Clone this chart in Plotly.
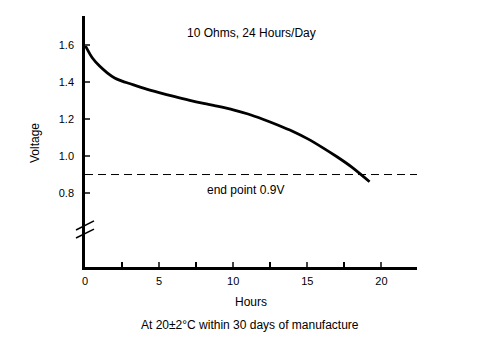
import plotly.graph_objects as go

hours = [0, 0.5, 1.0, 1.5, 2.0, 2.5, 3, 4, 5, 6, 7, 8, 9, 10, 11, 12, 13, 14, 15, 16, 17, 18, 19.2]
voltage = [1.600, 1.530, 1.485, 1.450, 1.422, 1.405, 1.392, 1.366, 1.343, 1.322, 1.302, 1.284, 1.268,
           1.250, 1.227, 1.199, 1.168, 1.134, 1.094, 1.047, 0.996, 0.940, 0.861]
end_point = 0.9
x_ticks = [0, 5, 10, 15, 20]
y_ticks = [0.8, 1.0, 1.2, 1.4, 1.6]
y_tick_text = ["0.8", "1.0", "1.2", "1.4", "1.6"]

X_RANGE = [0, 22.4]
Y_RANGE = [0.4, 1.757]

FONT = "Liberation Sans, Arial, sans-serif"

fig = go.Figure()
fig.add_trace(go.Scatter(x=hours, y=voltage, mode="lines",
                         line=dict(color="black", width=2.8, shape="spline", smoothing=0.8),
                         hoverinfo="skip", showlegend=False))
fig.add_trace(go.Scatter(x=[X_RANGE[0], X_RANGE[1]], y=[end_point, end_point], mode="lines",
                         line=dict(color="black", width=1, dash="8px,5px"),
                         hoverinfo="skip", showlegend=False, cliponaxis=False))


def py(v):
    return (v - Y_RANGE[0]) / (Y_RANGE[1] - Y_RANGE[0])


W = 332.0
H = 251.0
# axis break marks
for v0, v1 in [(0.600, 0.649), (0.557, 0.605)]:
    fig.add_shape(type="line", xref="paper", yref="paper",
                  x0=-9 / W, x1=9 / W, y0=py(v0), y1=py(v1),
                  line=dict(color="black", width=1.5))

txt = dict(showarrow=False, xanchor="center", yanchor="middle",
           font=dict(size=12, color="black", family=FONT))
fig.add_annotation(x=11.2, y=1.665, xref="x", yref="y", text="10 Ohms, 24 Hours/Day", **txt)
fig.add_annotation(x=10.85, y=0.815, xref="x", yref="y", text="end point 0.9V", **txt)
fig.add_annotation(x=-50 / W, y=(267 - 143) / H, xref="paper", yref="paper", text="Voltage",
                   textangle=-90, **txt)
fig.add_annotation(x=(251 - 85) / W, y=-35 / H, xref="paper", yref="paper", text="Hours", **txt)
fig.add_annotation(x=(250 - 85) / W, y=-58 / H, xref="paper", yref="paper",
                   text="At 20±2°C within 30 days of manufacture", **txt)

fig.update_layout(
    width=477, height=352,
    margin=dict(l=85, r=60, t=16, b=85),
    paper_bgcolor="white", plot_bgcolor="white",
    font=dict(family=FONT, size=11, color="black"),
    xaxis=dict(range=X_RANGE, tickvals=x_ticks, ticks="inside", ticklen=5, tickwidth=2,
               showline=True, linecolor="black", linewidth=2.5, showgrid=False, zeroline=False,
               minor=dict(dtick=2.5, tick0=0, ticks="inside", ticklen=5, tickwidth=2, tickcolor="black", showgrid=False),
               tickfont=dict(size=11), ticklabelstandoff=2, fixedrange=True),
    yaxis=dict(range=Y_RANGE, tickvals=y_ticks, ticktext=y_tick_text, ticks="inside", ticklen=5,
               tickwidth=2, showline=True, linecolor="black", linewidth=2.5, showgrid=False,
               zeroline=False, tickfont=dict(size=11), ticklabelstandoff=6, fixedrange=True),
)

fig.write_html("out.html")
